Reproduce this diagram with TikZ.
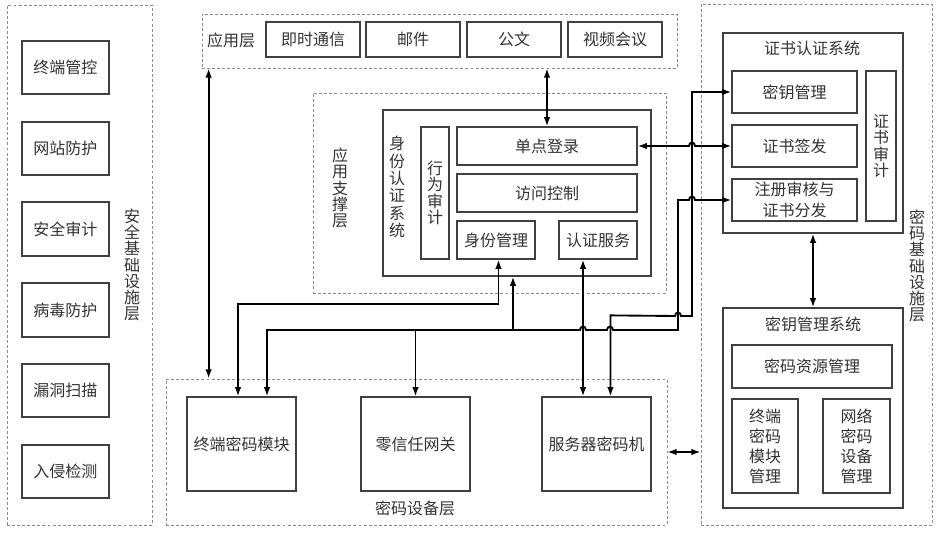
\documentclass[tikz,border=0pt]{standalone}
\usepackage{fontspec}
\newfontfamily\cjk{Noto Sans CJK SC}
\usetikzlibrary{arrows.meta,fit,calc}
\newcommand\bx[7][]{\node[box,#1, minimum width={(#5-#3)*0.75pt}, minimum height={(#6-#4)*0.75pt}] (#2) at ({(#3+#5)/2},{(#4+#6)/2}) {#7};}
\begin{document}
\begin{tikzpicture}[x=0.75pt,y=-0.75pt,
  every node/.style={font=\cjk\fontsize{12}{12.2}\selectfont, text=black!80},
  box/.style={draw=black!75, line width=0.9pt, inner sep=0pt, align=center},
  twoline/.style={font=\cjk\fontsize{12}{15.5}\selectfont},
  fourline/.style={font=\cjk\fontsize{12}{15}\selectfont},
  layer/.style={draw=black!45, line width=0.6pt, dash pattern=on 2.2pt off 1.6pt, inner sep=0pt},
  vtxt/.style={align=center, inner sep=0pt},
  wire/.style={line width=1.4pt, draw=black},
  arr/.style={wire, -{Latex[length=7pt,width=5pt]}},
  dbl/.style={wire, {Latex[length=7pt,width=5pt]}-{Latex[length=7pt,width=5pt]}},
]
\fill[white] (0,0) rectangle (940,534);
\useasboundingbox (0,0) rectangle (940,534);

% layers
\node[layer, fit={(7,5) (152,525)}] (secL) {};
\node[layer, fit={(202,14) (677,68)}] (appL) {};
\node[layer, fit={(313,93) (666,293)}] (supL) {};
\node[layer, fit={(166,379) (667,525)}] (devL) {};
\node[layer, fit={(701,4) (932,525)}] (cryL) {};

% layer labels
\node[vtxt] at (132,265) (secLbl) {安\\全\\基\\础\\设\\施\\层};
\node[vtxt] at (917,266) (cryLbl) {密\\码\\基\\础\\设\\施\\层};
\node at (231,40) (appLbl) {应用层};
\node[vtxt, font=\cjk\fontsize{12}{12.3}\selectfont] at (340,188) (supLbl) {应\\用\\支\\撑\\层};
\node at (415,508) (devLbl) {密码设备层};

% security infrastructure boxes
\bx{zdgk}{22}{41}{109}{94}{终端管控}
\bx{wzfh}{22}{122}{109}{175}{网站防护}
\bx{aqsj}{22}{202}{109}{256}{安全审计}
\bx{bdfh}{22}{283}{109}{337}{病毒防护}
\bx{ldsm}{22}{364}{109}{417}{漏洞扫描}
\bx{rqjc}{22}{445}{109}{498}{入侵检测}

% application layer
\bx{jstx}{266}{22}{360}{57}{即时通信}
\bx{yj}{366}{22}{460}{57}{邮件}
\bx{gw}{467}{22}{561}{57}{公文}
\bx{sphy}{568}{22}{662}{57}{视频会议}

% application support layer
\bx{idsys}{383}{110}{651}{276}{}
\node[vtxt, font=\cjk\fontsize{12}{13}\selectfont] at (397,187) (idLbl) {身\\份\\认\\证\\系\\统};
\bx{xwsj}{421}{127}{449}{259}{行\\为\\审\\计}
\bx{sso}{457}{127}{637}{165}{单点登录}
\bx{fwkz}{457}{174}{637}{212}{访问控制}
\bx{sfgl}{457}{221}{535}{259}{身份管理}
\bx{rzfw}{559}{221}{637}{259}{认证服务}

% crypto device layer
\bx{zdmk}{187}{397}{296}{491}{终端密码模块}
\bx{lxr}{361}{397}{470}{491}{零信任网关}
\bx{fwq}{542}{397}{651}{491}{服务器密码机}

% certificate system
\bx{certsys}{723}{33}{903}{233}{}
\node at (812,48) (certT) {证书认证系统};
\bx{mygl}{732}{71}{857}{113}{密钥管理}
\bx{zsqf}{732}{125}{857}{167}{证书签发}
\bx[twoline]{zcsh}{732}{179}{857}{221}{注册审核与\\证书分发}
\bx{zssj}{866}{71}{896}{221}{证\\书\\审\\计}

% key management system
\bx{kmsys}{723}{308}{903}{508}{}
\node at (813,324) (kmT) {密钥管理系统};
\bx{mmzy}{732}{345}{892}{388}{密码资源管理}
\bx[fourline]{zdmkgl}{732}{399}{798}{493}{终端\\密码\\模块\\管理}
\bx[fourline]{wlsbgl}{823}{399}{890}{493}{网络\\密码\\设备\\管理}

% connectors
\draw[dbl] ($(appL.south west)+(7,0)$) -- ($(devL.north west)+(43,0)$);
\draw[dbl] (sso.north |- appL.south) -- (sso.north);
\draw[dbl] (sso.east) -- (689,146) .. controls (689,141.5) and (695,141.5) .. (695,146) -- (zsqf.west);
\draw[dbl] ($(sfgl.south)+(2.5,0)$) -- ++(0,44) -| ($(zdmk.north)+(-3.5,0)$);
\draw[dbl] ($(zdmk.north)+(25.5,0)$) -- (267,330) -- (580,330)
   .. controls (580,325.5) and (586,325.5) .. (586,330) -- (607,330)
   .. controls (607,325.5) and (613,325.5) .. (613,330) -- (678,330)
   -- (678,200) -- (689,200) .. controls (689,195.5) and (695,195.5) .. (695,200) -- (zcsh.west);
\draw[arr] ($(lxr.north)+(0,-67)$) -- (lxr.north);
\draw[arr] ($(idsys.south)+(-4,54)$) -- ($(idsys.south)+(-4,0)$);
\draw[dbl] ($(rzfw.south)+(-15,0)$) -- ($(fwq.north)+(-13.5,0)$);
\draw[dbl] ($(fwq.north)+(14,0)$) -- ++(0,-81) -- (675,316)
   .. controls (675,311.5) and (681,311.5) .. (681,316) -- (692,316) -- (692,92) -- (mygl.west);
\draw[dbl] (certsys.south) -- (kmsys.north);
\draw[dbl] (devL.east) -- (devL.east -| cryL.west);
\end{tikzpicture}
\end{document}
